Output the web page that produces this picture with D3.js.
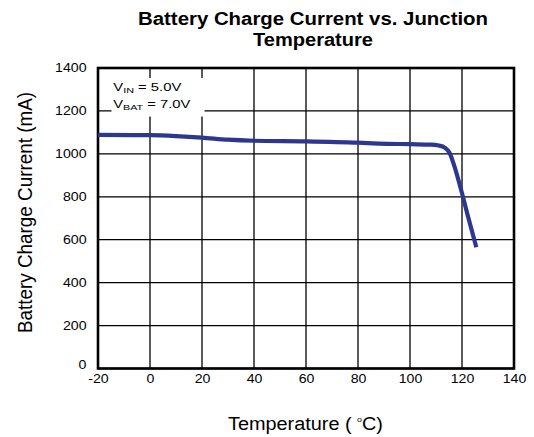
<!DOCTYPE html>
<html><head><meta charset="utf-8">
<script src="https://cdn.jsdelivr.net/npm/d3@7"></script>
<style>body{margin:0;background:#fff}svg{display:block;font-family:"Liberation Sans",Arial,sans-serif}</style>
</head><body>
<script>
const temps = [-20, 0, 10, 20, 30, 40, 60, 80, 88, 100, 108, 111, 113.5, 115.2, 117, 119.8, 122.5, 125.5];
const currents = [1088, 1087, 1083, 1076, 1066, 1061, 1058, 1052, 1048, 1045, 1043, 1039, 1028, 1005, 945, 826, 700, 565];
const xTicks = [-20, 0, 20, 40, 60, 80, 100, 120, 140];
const yTicks = [0, 200, 400, 600, 800, 1000, 1200, 1400];
const titleLines = ["Battery Charge Current vs. Junction", "Temperature"];

const W = 534, H = 437;
const m = {l: 98, r: 20, t: 68, b: 68.5};
const SX = 1.18; // horizontal stretch of text in the reference
const svg = d3.select("body").append("svg").attr("width", W).attr("height", H);
const x = d3.scaleLinear().domain([-20, 140]).range([m.l, W - m.r]);
const y = d3.scaleLinear().domain([0, 1400]).range([H - m.b, m.t]);

function stretch(sel, f) {
  sel.each(function() {
    const L = this.getComputedTextLength();
    d3.select(this).attr("textLength", L * f).attr("lengthAdjust", "spacingAndGlyphs");
  });
}

// grid
const g = svg.append("g");
g.selectAll(".vx").data(xTicks).join("line")
  .attr("x1", d => x(d)).attr("x2", d => x(d)).attr("y1", y(0)).attr("y2", y(1400))
  .attr("stroke", "#000").attr("stroke-width", 1.3);
g.selectAll(".hy").data(yTicks).join("line")
  .attr("x1", x(-20)).attr("x2", x(140)).attr("y1", d => y(d)).attr("y2", d => y(d))
  .attr("stroke", "#000").attr("stroke-width", 1.3);

// annotation box
svg.append("rect").attr("x", 111.5).attr("y", 78).attr("width", 93).attr("height", 38.5).attr("fill", "#fff");
function annot(yy, sub, rest, len) {
  const t = svg.append("text").attr("x", 113.3).attr("y", yy).attr("font-size", 11);
  t.append("tspan").text("V");
  t.append("tspan").attr("font-size", 8).attr("dy", 1.8).text(sub);
  t.append("tspan").attr("dy", -1.8).text(" = " + rest);
  t.attr("textLength", len).attr("lengthAdjust", "spacingAndGlyphs");
}
annot(91, "IN", "5.0V", 68);
annot(108.3, "BAT", "7.0V", 77);

// frame
svg.append("rect").attr("x", x(-20)).attr("y", y(1400)).attr("width", x(140) - x(-20)).attr("height", y(0) - y(1400))
  .attr("fill", "none").attr("stroke", "#000").attr("stroke-width", 2.6);

// axes labels
const fmt = d => String(d);
const xa = d3.axisBottom(x).tickValues(xTicks).tickFormat(fmt).tickSize(0).tickPadding(6);
svg.append("g").attr("transform", `translate(0,${y(0)})`).call(xa)
  .call(s => s.select(".domain").remove())
  .call(s => s.selectAll("text").attr("font-size", 12).attr("font-family", "Liberation Sans, Arial, sans-serif").attr("fill", "#000").call(stretch, SX));
const ya = d3.axisLeft(y).tickValues(yTicks).tickFormat(fmt).tickSize(0).tickPadding(11.5);
svg.append("g").attr("transform", `translate(${x(-20)},0)`).call(ya)
  .call(s => s.select(".domain").remove())
  .call(s => s.selectAll("text").attr("font-size", 12).attr("font-family", "Liberation Sans, Arial, sans-serif").attr("fill", "#000")
    .attr("y", d => d === 0 ? -3.5 : 0).call(stretch, SX));

// line
const data = temps.map((t, i) => [t, currents[i]]);
svg.append("path").datum(data)
  .attr("d", d3.line().x(d => x(d[0])).y(d => y(d[1])).curve(d3.curveMonotoneX))
  .attr("fill", "none").attr("stroke", "#2e3790").attr("stroke-width", 4.2).attr("stroke-linejoin", "round");

// titles
const titleLens = [350, 120];
svg.selectAll(".title").data(titleLines).join("text")
  .attr("x", 313).attr("y", (d, i) => 25 + i * 20.8).attr("text-anchor", "middle")
  .attr("font-size", 18).attr("font-weight", "bold").text(d => d)
  .attr("textLength", (d, i) => titleLens[i]).attr("lengthAdjust", "spacingAndGlyphs");

const xt = svg.append("text").attr("x", 305.5).attr("y", 429.5).attr("text-anchor", "middle").attr("font-size", 18);
xt.append("tspan").text("Temperature (  ");
xt.append("tspan").attr("font-size", 8).attr("dy", -8).text("o");
xt.append("tspan").attr("dy", 8).text("C)");
xt.attr("textLength", 155).attr("lengthAdjust", "spacingAndGlyphs");

svg.append("text").attr("transform", `translate(31.5,212.5) rotate(-90)`).attr("text-anchor", "middle")
  .attr("font-size", 21).text("Battery Charge Current (mA)")
  .attr("textLength", 241).attr("lengthAdjust", "spacingAndGlyphs");
</script>
</body></html>
